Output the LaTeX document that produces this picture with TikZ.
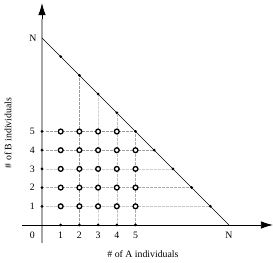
\documentclass[tikz,border=0pt]{standalone}
\usepackage{fontspec}
\setmainfont{Liberation Serif}
\usetikzlibrary{arrows.meta}
\begin{document}
\begin{tikzpicture}[x=18.7pt,y=18.7pt,
  lbl/.style={font=\fontsize{9.8}{11}\selectfont, inner sep=0pt},
  dotb/.style={circle, fill=black, inner sep=0pt, minimum size=3pt},
  ring/.style={circle, draw=black, fill=white, line width=1.3pt, inner sep=0pt, minimum size=4.8pt},
  guide/.style={dashed, dash pattern=on 2.5pt off 1.5pt, line width=0.5pt},
  axis/.style={line width=0.8pt}]
\useasboundingbox (-2.246,-2.032) rectangle (12.353,12.032);
% axes
\coordinate (ybot) at (0,-0.96);
\coordinate (ymid) at (0,11.0);
\coordinate (ytop) at (0,11.87);
\coordinate (xl) at (-1.07,0);
\coordinate (xr) at (12.35,0);
\draw[gray!70, line width=1.6pt] (ybot) -- (ymid);
\draw[axis, -{Latex[length=12pt,width=7.5pt]}] (ymid) -- (ytop);
\draw[axis, -{Latex[length=12pt,width=7.5pt]}] (xl) -- (xr);
% diagonal
\coordinate (N0) at (0,10);
\coordinate (N10) at (10,0);
\draw[line width=0.6pt] (N0) -- (N10);
% guide lines
\foreach \i/\c in {2/gray!80,3/gray!35,4/gray!50,5/gray!65}{
  \coordinate (xb\i) at (\i,0);
  \coordinate (xd\i) at (\i,{10-\i});
  \draw[guide, \c] (xb\i) -- (xd\i);
}
\foreach \j/\c in {1/gray!45,2/gray!65,3/gray!40,4/gray!75,5/gray!80}{
  \coordinate (yb\j) at (0,\j);
  \coordinate (yd\j) at ({10-\j},\j);
  \draw[guide, \c] (yb\j) -- (yd\j);
}
% diagonal dots
\foreach \i in {1,...,9}{
  \node[dotb] (d\i) at (\i,{10-\i}) {};
}
% axis dots
\foreach \i in {1,...,5}{
  \node[dotb] (ax\i) at (\i,0) {};
  \node[dotb] (ay\i) at (0,\i) {};
}
% rings
\foreach \i in {1,...,5}{
  \foreach \j in {1,...,5}{
    \ifnum\numexpr\i+\j\relax<10
      \node[ring] (r\i\j) at (\i,\j) {};
    \fi
  }
}
% labels
\node[lbl] (lN) at (-0.48,10) {N};
\node[lbl] (lNx) at (10,-0.55) {N};
\node[lbl] (l0) at (-0.52,-0.55) {0};
\foreach \i in {1,...,5}{
  \node[lbl] (lx\i) at (\i,-0.55) {\i};
  \node[lbl] (ly\i) at (-0.52,\i) {\i};
}
\node[lbl] (xlab) at ({(143-42)/18.7},{(225-254)/18.7}) {\# of A individuals};
\node[lbl, rotate=90] (ylab) at ({(8-42)/18.7},{(225-133)/18.7}) {\# of B individuals};
\end{tikzpicture}
\end{document}
